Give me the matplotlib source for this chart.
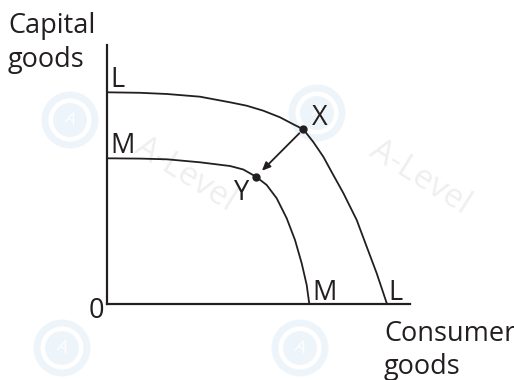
import matplotlib
matplotlib.use("Agg")
import matplotlib.pyplot as plt
from matplotlib.patches import Circle

L_x = [0, 33, 60, 93, 123, 139.7, 156.3, 173, 186.3, 196.3, 206.3, 216.3,
       226.3, 236.3, 249.7, 259.7, 269.7, 280]
L_y = [211.7, 211.2, 210, 207.3, 201.7, 198.3, 193.3, 186.7, 179.7, 174.7,
       162, 147.3, 129, 111, 84, 57.3, 30.7, 0]
M_x = [0, 33, 60, 93, 123, 136.3, 149, 159.7, 169.7, 179.7, 188, 194.7,
       199.7, 202.3]
M_y = [145.7, 145.4, 144.7, 141.7, 138, 134.5, 127.3, 119, 105.7, 85.7, 64,
       40.7, 19, 0]
point_X = (196.3, 174.7)
point_Y = (149, 127.3)

y_title = ['Capital', 'goods']
x_title = ['Consumer', 'goods']

TXT = '#231f20'
FONT = 'Open Sans'
FS = 19.5

W, H = 514, 380
fig = plt.figure(figsize=(W / 100, H / 100), dpi=100)

# watermark layer (pixel coordinates)
bg = fig.add_axes([0, 0, 1, 1], zorder=0)
bg.set_xlim(0, W)
bg.set_ylim(H, 0)
bg.axis('off')
for cx, cy in [(70, 120), (317, 113), (62, 348), (300, 348)]:
    bg.add_patch(Circle((cx, cy), 25, fill=False, ec='#eef5fa', lw=5))
    bg.add_patch(Circle((cx, cy), 17, fc='#eef5fa', ec='none'))
    bg.text(cx, cy, 'A', color='white', fontsize=12, family=FONT,
            ha='center', va='center', rotation=-20)
for cx, cy in [(185, 175), (420, 178)]:
    bg.text(cx, cy, 'A-Level', color='#efefef', fontsize=24, family=FONT,
            ha='center', va='center', rotation=-32)

ox, oy = 107, 304           # origin in pixels
xmax, ymax = 303, 259
ax = fig.add_axes([ox / W, (H - oy) / H, xmax / W, ymax / H], zorder=1)
ax.set_xlim(0, xmax)
ax.set_ylim(0, ymax)
for s in ['top', 'right']:
    ax.spines[s].set_visible(False)
for s in ['left', 'bottom']:
    ax.spines[s].set_linewidth(1.6)
    ax.spines[s].set_color(TXT)
ax.set_xticks([])
ax.set_yticks([])
ax.patch.set_alpha(0)

lw = 1.3
ax.plot(L_x, L_y, color=TXT, lw=lw, clip_on=False, solid_joinstyle='round')
ax.plot(M_x, M_y, color=TXT, lw=lw, clip_on=False, solid_joinstyle='round')
ax.plot(*point_X, 'o', color=TXT, ms=5, clip_on=False)
ax.plot(*point_Y, 'o', color=TXT, ms=5, clip_on=False)

ax.annotate('', xy=point_Y, xytext=point_X,
            arrowprops=dict(arrowstyle='-|>,head_length=0.5,head_width=0.22',
                            color=TXT, lw=1.3, shrinkA=4, shrinkB=6))

def t(px, py, s, **kw):
    # px, py: pixel position of the text baseline start
    ax.text(px - ox, oy - py, s, color=TXT, fontsize=FS, family=FONT,
            va='baseline', clip_on=False, **kw)

t(110, 87, 'L')
t(110, 153, 'M')
t(312, 125, 'X')
t(234, 200, 'Y')
t(312, 300, 'M')
t(388, 300, 'L')
t(104, 318, '0', ha='right')
t(8, 33, y_title[0])
t(8, 67, y_title[1])
t(384, 341, x_title[0])
t(384, 374, x_title[1])

fig.savefig('out.png', dpi=100, facecolor='white')
